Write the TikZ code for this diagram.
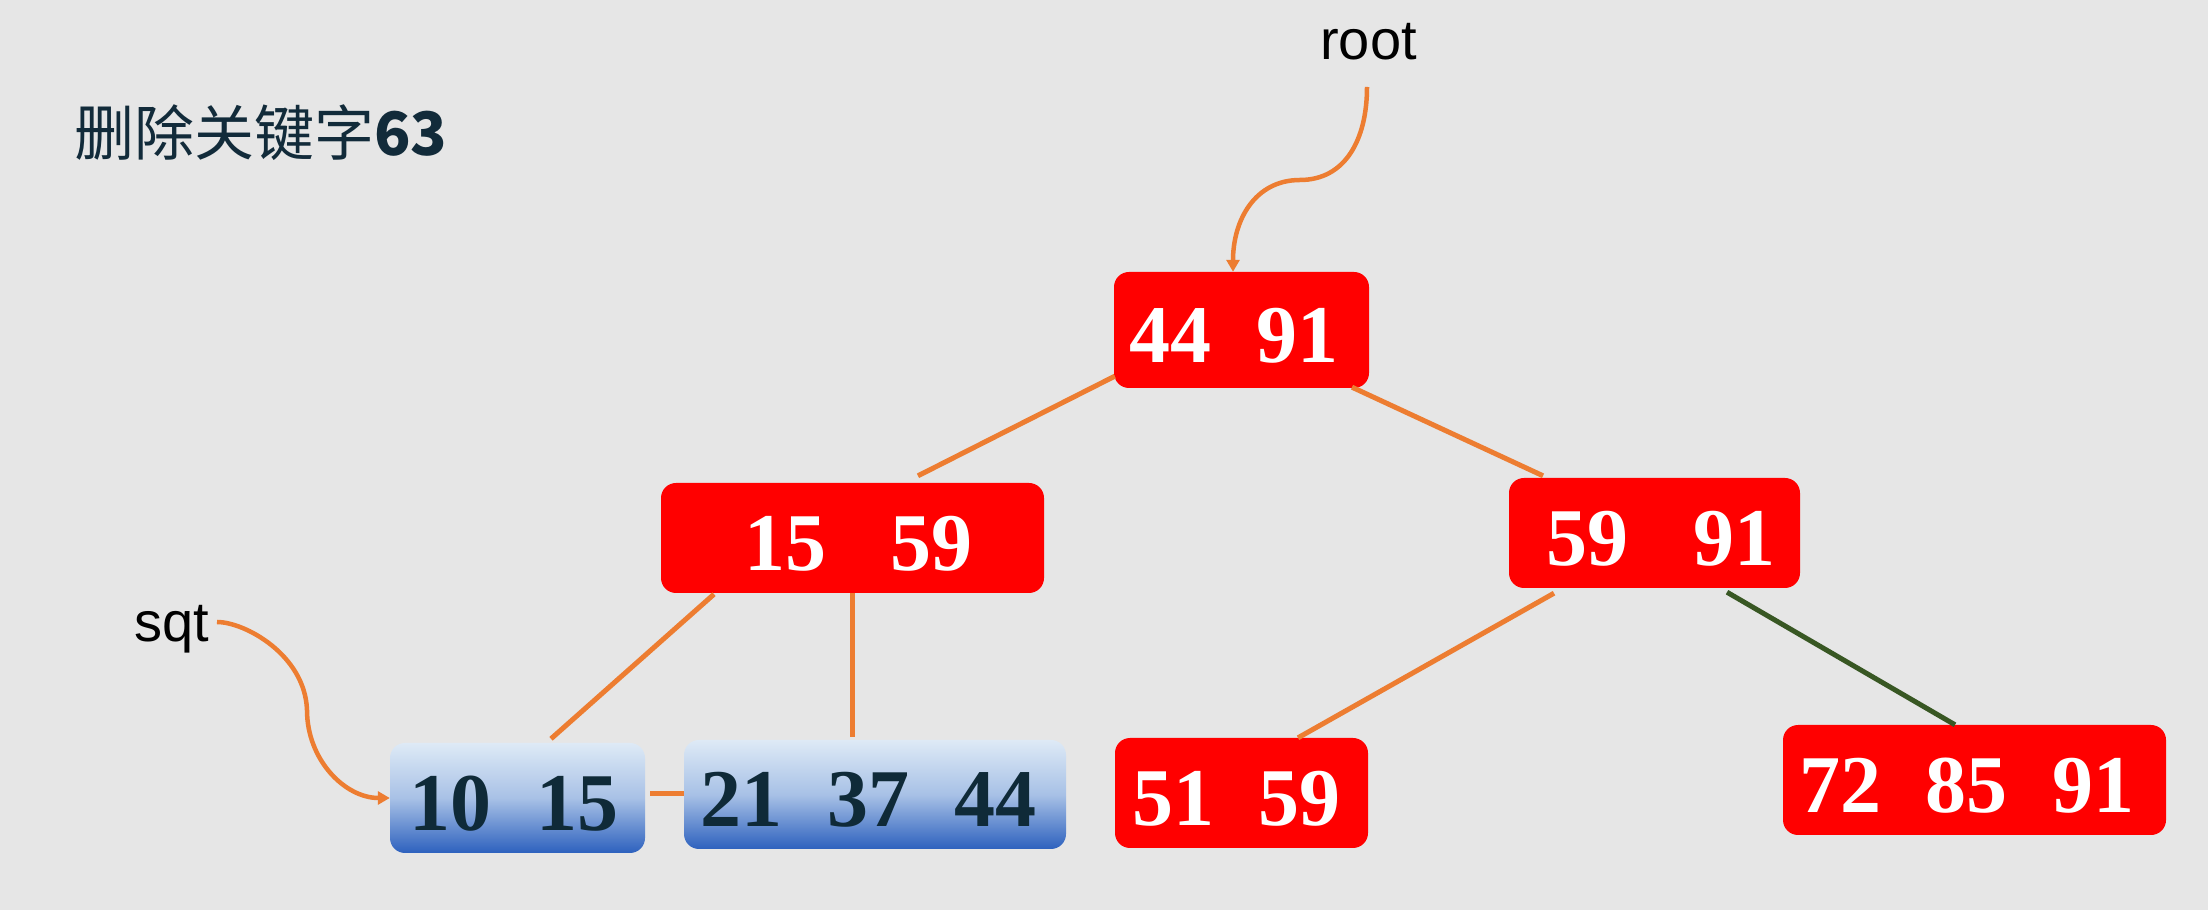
\documentclass[tikz,border=0pt]{standalone}
\usepackage{fontspec}
\setmainfont{Liberation Sans}
\newfontfamily\numfont{Liberation Serif}
\newfontfamily\cjkfont{Noto Sans CJK SC}
\usetikzlibrary{arrows.meta,calc}

\definecolor{bg}{RGB}{230,230,230}
\definecolor{keyred}{RGB}{255,0,0}
\definecolor{linkorange}{RGB}{237,125,49}
\definecolor{linkgreen}{RGB}{56,87,35}
\definecolor{titleink}{RGB}{18,43,58}
\definecolor{leafink}{RGB}{15,42,56}
\definecolor{leaftop}{RGB}{222,234,246}
\definecolor{leafmid}{RGB}{168,193,230}
\definecolor{leafbot}{RGB}{45,97,190}

% spaces between the keys of one node
\newcommand\keygap{\hspace{45pt}}
\newcommand\widegap{\hspace{65pt}}

\begin{document}
\begin{tikzpicture}[x=1pt,y=1pt,
  keybox/.style={rounded corners=15pt, inner sep=0pt, text height=65pt, text depth=0pt,
    font=\numfont\bfseries\fontsize{82}{90}\selectfont},
  rednode/.style={keybox, fill=keyred, text=white},
  leafnode/.style={keybox, top color=leaftop, bottom color=leafbot, middle color=leafmid, text=leafink},
  link/.style={draw=linkorange, line width=5pt},
  pointer/.style={draw=linkorange, line width=4.5pt, -{Triangle[length=12pt,width=13pt]}},
  tag/.style={font=\fontsize{56}{60}\selectfont, text=black, inner sep=0pt, anchor=base west}
]
% canvas
\fill[bg] (0,0) rectangle (2208,910);
\useasboundingbox (0,0) rectangle (2208,910);

% heading
\node[anchor=base west, inner sep=0pt, text=titleink, font=\cjkfont\fontsize{60}{66}\selectfont]
  (title) at (74,754) {删除关键字\textbf{63}};

% B+ tree nodes
\node[rednode, minimum width=255pt, minimum height=116pt] (root) at (1241.5,580) {44\keygap 91\kern15pt};
\node[rednode, minimum width=383pt, minimum height=110pt] (left) at (852.5,372) {\kern12pt 15\widegap 59};
\node[rednode, minimum width=291pt, minimum height=110pt] (right) at (1654.5,377) {\kern13pt 59\widegap 91};
\node[leafnode, minimum width=255pt, minimum height=110pt] (leafA) at (517.5,112) {10\keygap 15\kern7pt};
\node[leafnode, minimum width=382pt, minimum height=109pt] (leafB) at (875,115.5) {21\keygap 37\keygap 44\kern13pt};
\node[rednode, minimum width=253pt, minimum height=110pt] (leafC) at (1241.5,117) {51\keygap 59\kern10pt};
\node[rednode, minimum width=383pt, minimum height=110pt] (leafD) at (1974.5,130) {72\keygap 85\keygap 91\kern15pt};

% tree links
\draw[link] ($(root.south west)+(1,12)$) -- ($(left.north)+(65.5,7)$);
\draw[link] ($(root.south)+(110.5,1)$) -- ($(right.north)+(-111.5,2)$);
\draw[link] ($(left.south)+(-138.5,-1)$) -- ($(leafA.north)+(33.5,4)$);
\draw[link] (left.south) -- ($(left.south |- leafB.north)+(0,3)$);
\draw[link] ($(leafA.east)+(5,4)$) -- ($(leafB.west)+(0,0.5)$);
\draw[link] ($(right.south)+(-100.5,-5)$) -- ($(leafC.north)+(56.5,0)$);
\draw[link, draw=linkgreen] ($(right.south)+(72.5,-4)$) -- ($(leafD.north)+(-19.5,0)$);

% head pointers
\node[tag] (rootlbl) at (1320,850) {root};
\node[tag] (sqtlbl) at (134,268) {sqt};
\coordinate (rootfrom) at ($(rootlbl.base west)+(47,-27)$);
\coordinate (rootbend) at (1300,730);
\coordinate (sqtfrom) at ($(sqtlbl.base west)+(83,20)$);
\coordinate (sqtbend) at (307,200);
\draw[pointer] (rootfrom) .. controls (1367,770) and (1345,730) .. (rootbend)
  .. controls (1255,730) and (1233,690) .. ($(root.north)+(-8.5,0)$);
\draw[pointer] (sqtfrom) .. controls (245,288) and (305,255) .. (sqtbend)
  .. controls (307,150) and (345,112) .. (leafA.west);
\end{tikzpicture}
\end{document}
